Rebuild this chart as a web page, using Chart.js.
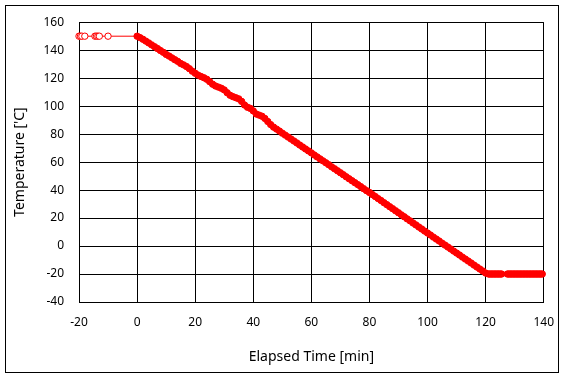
<!DOCTYPE html>
<html>
<head>
<meta charset="utf-8">
<script src="https://cdn.jsdelivr.net/npm/chart.js@4.4.1/dist/chart.umd.min.js"></script>
<style>
    html, body { margin: 0; padding: 0; background: #fff; }
    canvas { display: block; }
</style>
</head>
<body>
<canvas id="tempChart" width="567" height="379"></canvas>
<script>
// elapsed time [min] and temperature ['C]
const timeMin = [
    -20, -19.5, -19, -18, -14.5, -14, -13.5, -13, -10,
    0, 1, 2, 3, 4, 5, 6, 7, 8, 9, 10, 11, 12, 13, 14, 15, 16, 17, 18, 19,
    20, 21, 22, 23, 24, 25, 26, 27, 28, 29, 30, 31, 32, 33, 34, 35, 36, 37, 38, 39,
    40, 41, 42, 43, 44, 45, 46, 47, 48, 49, 50, 51, 52, 53, 54, 55, 56, 57, 58, 59,
    60, 61, 62, 63, 64, 65, 66, 67, 68, 69, 70, 71, 72, 73, 74, 75, 76, 77, 78, 79,
    80, 81, 82, 83, 84, 85, 86, 87, 88, 89, 90, 91, 92, 93, 94, 95, 96, 97, 98, 99,
    100, 101, 102, 103, 104, 105, 106, 107, 108, 109, 110, 111, 112, 113, 114, 115, 116, 117, 118, 119,
    120, 121, 121.5, 122, 122.5, 123, 123.5, 124, 124.5, 125, 125.5,
    127.5, 128, 128.5, 129, 129.5, 130, 130.5, 131, 131.5, 132, 132.5, 133, 133.5, 134,
    134.5, 135, 135.5, 136, 136.5, 137, 137.5, 138, 138.5, 139, 139.5
];
const tempC = [
    150, 150, 150, 150, 150, 150, 150, 150, 150,
    150, 149, 147.8, 146.5, 145.2, 143.8, 142.5, 141.2, 139.8, 138.5, 137, 135.8, 134.5, 133.2, 132, 130.5, 129.5, 128.3, 126.8, 125,
    123.5, 122.2, 121.2, 120.3, 119.2, 117.5, 115.7, 114.4, 113.6, 112.8, 111.6, 109.6, 107.8, 106.8, 106, 105.2, 103.4, 100.8, 99.2, 98.4,
    96.6, 94.4, 93.6, 92.8, 91.2, 89, 86.8, 85, 83.6, 82.2, 80.7, 79.3, 77.9, 76.5, 75.1, 73.7, 72.2, 70.8, 69.4, 68,
    66.6, 65.1, 63.7, 62.3, 60.9, 59.5, 58.1, 56.6, 55.2, 53.8, 52.4, 51, 49.5, 48.1, 46.7, 45.3, 43.9, 42.5, 41, 39.6,
    38.3, 36.8, 35.4, 33.9, 32.5, 31, 29.6, 28.1, 26.7, 25.2, 23.8, 22.3, 20.9, 19.4, 18, 16.5, 15.1, 13.6, 12.2, 10.7,
    9.3, 7.9, 6.4, 5, 3.6, 2.1, 0.7, -0.7, -2.1, -3.6, -5, -6.4, -7.9, -9.3, -10.7, -12.1, -13.6, -15, -16.4, -17.8,
    -19.3, -20, -20, -20, -20, -20, -20, -20, -20, -20, -20,
    -20, -20, -20, -20, -20, -20, -20, -20, -20, -20, -20, -20, -20, -20,
    -20, -20, -20, -20, -20, -20, -20, -20, -20, -20, -20
];
const xTicks = [-20, 0, 20, 40, 60, 80, 100, 120, 140];
const yTicks = [-40, -20, 0, 20, 40, 60, 80, 100, 120, 140, 160];

const points = timeMin.map((t, i) => ({ x: t, y: tempC[i] }));
const fontFamily = '"Noto Sans", "DejaVu Sans", sans-serif';

// plot area wanted, in canvas pixels
const plotBox = { left: 79, top: 16, right: 546, bottom: 302 };
const pad = { left: 0, top: 16, right: 21, bottom: 0 };
const axisSize = { y: 79, x: 77 };

// Excel-style outer frame around the whole chart
const outerFrame = {
    id: 'outerFrame',
    beforeDraw(chart) {
        const ctx = chart.ctx;
        ctx.save();
        ctx.fillStyle = '#fff';
        ctx.fillRect(0, 0, chart.width, chart.height);
        ctx.strokeStyle = '#000';
        ctx.lineWidth = 1;
        ctx.strokeRect(5.5, 5.5, 553, 367);
        ctx.restore();
    }
};

const chart = new Chart(document.getElementById('tempChart'), {
    type: 'scatter',
    data: {
        datasets: [{
            data: points,
            showLine: true,
            clip: false,
            borderColor: '#ff0000',
            borderWidth: 1,
            pointRadius: 3.2,
            pointBorderWidth: 1,
            pointBorderColor: '#ff0000',
            pointBackgroundColor: (c) => (c.raw && c.raw.x < 0 ? '#ffffff' : '#ff0000')
        }]
    },
    options: {
        responsive: false,
        animation: false,
        layout: { padding: pad },
        plugins: {
            legend: { display: false },
            tooltip: { enabled: false }
        },
        scales: {
            x: {
                type: 'linear',
                min: -20,
                max: 140,
                afterBuildTicks: (axis) => { axis.ticks = xTicks.map(v => ({ value: v })); },
                afterFit: (axis) => { axis.height = axisSize.x; },
                grid: { color: '#000', lineWidth: 1, tickLength: 0 },
                border: { color: '#000', width: 1 },
                ticks: { color: '#000', padding: 13, maxRotation: 0, font: { family: fontFamily, size: 12 } },
                title: {
                    display: true,
                    text: 'Elapsed Time [min]',
                    color: '#000',
                    padding: { top: 0, bottom: 14 },
                    font: { family: fontFamily, size: 14 }
                }
            },
            y: {
                type: 'linear',
                min: -40,
                max: 160,
                afterBuildTicks: (axis) => { axis.ticks = yTicks.map(v => ({ value: v })); },
                afterFit: (axis) => { axis.width = axisSize.y; },
                grid: { color: '#000', lineWidth: 1, tickLength: 0 },
                border: { color: '#000', width: 1 },
                ticks: { color: '#000', padding: 15, font: { family: fontFamily, size: 12 } },
                title: {
                    display: true,
                    text: "Temperature ['C]",
                    color: '#000',
                    padding: { top: 12, bottom: 0 },
                    font: { family: fontFamily, size: 14 }
                }
            }
        }
    },
    plugins: [outerFrame]
});

// nudge padding until the plot area sits where it does in the picture
for (let i = 0; i < 4; i++) {
    const a = chart.chartArea;
    pad.top = Math.max(0, pad.top + plotBox.top - a.top);
    pad.right = Math.max(0, pad.right + a.right - plotBox.right);
    axisSize.y = Math.max(0, axisSize.y + plotBox.left - a.left);
    axisSize.x = Math.max(0, axisSize.x + a.bottom - plotBox.bottom);
    chart.options.layout.padding = { ...pad };
    chart.update();
}
</script>
</body>
</html>
